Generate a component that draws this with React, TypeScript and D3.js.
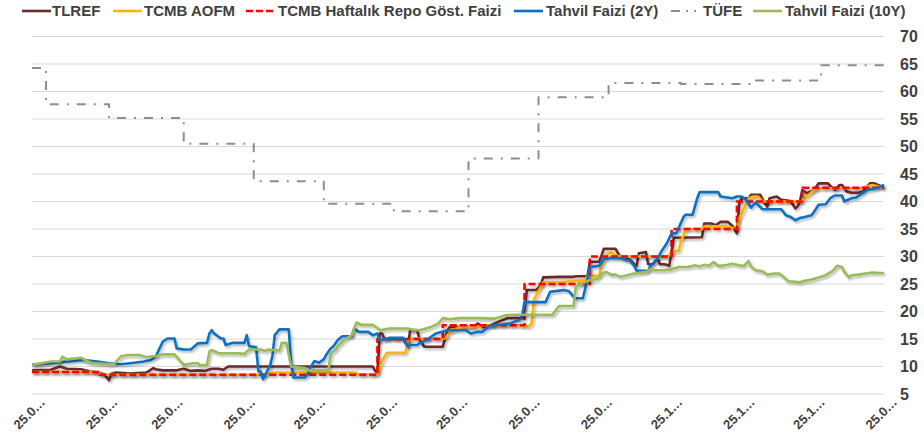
import React from "react";
import * as d3 from "d3";

// x values are days since 25.01.2023 (first date on the axis)
const startDate = "25.01.2023";
const endDate = "25.01.2024";
const xTickLabels = [
  "25.01.2023", "25.02.2023", "25.03.2023", "25.04.2023", "25.05.2023", "25.06.2023",
  "25.07.2023", "25.08.2023", "25.09.2023", "25.10.2023", "25.11.2023", "25.12.2023", "25.01.2024",
];
const yTicks = [5, 10, 15, 20, 25, 30, 35, 40, 45, 50, 55, 60, 65, 70];

const tlref: [number, number][] = [[0,9.3],[8,9.4],[12,10.0],[15,9.6],[21,9.5],[25,9.1],[28,8.9],[31,8.6],[33,7.5],[34,8.7],[36,8.9],[42,8.7],[49,8.9],[52,9.7],[53,9.5],[56,9.3],[62,9.3],[65,9.6],[68,9.2],[71,9.3],[74,9.2],[77,9.6],[80,9.6],[82,9.4],[84,10.0],[146,10.0],[147,9.2],[148,8.8],[149,16.0],[150,16.0],[151,15.0],[159,15.0],[161,13.6],[162,16.6],[165,16.6],[166,15.0],[168,13.6],[176,13.6],[177,15.2],[178,16.6],[179,17.2],[189,17.2],[191,17.8],[193,17.2],[196,17.4],[198,17.8],[202,18.5],[204,18.8],[210,18.8],[211,20.3],[212,23.9],[216,23.9],[218,24.8],[219,26.2],[226,26.3],[232,26.3],[233,26.4],[238,26.4],[239,29.05],[243,29.05],[244,30.2],[245,31.4],[250,31.4],[252,29.9],[254,29.5],[256,29.5],[258,28.6],[259,28.3],[260,30.6],[263,30.8],[264,28.6],[266,28.6],[268,29.6],[269,28.6],[271,28.6],[273,28.3],[275,33.4],[287,33.5],[288,36.0],[291,36.0],[293,35.7],[295,36.3],[298,36.3],[300,35.6],[302,34.2],[303,39.7],[304,40.6],[307,40.6],[308,41.2],[312,41.2],[313,40.3],[315,39.05],[316,40.6],[319,40.9],[321,40.3],[325,40.1],[327,38.75],[328,39.1],[329,40.0],[330,42.1],[332,41.5],[335,42.1],[337,43.3],[341,43.3],[343,42.4],[344,42.1],[346,43.0],[347,43.0],[349,41.8],[351,41.6],[354,41.6],[356,41.8],[357,42.4],[359,43.3],[361,43.3],[364,42.7],[365,42.9]];

const aofm: [number, number][] = [[0,9.0],[28,9.0],[30,8.5],[100,8.5],[101,8.7],[103,8.9],[138,8.9],[140,8.6],[148,8.6],[150,11.0],[152,12.5],[160,12.5],[161,14.6],[163,15.1],[177,15.1],[178,15.8],[180,16.5],[183,17.2],[192,17.2],[193,17.5],[209,17.5],[213,17.3],[214,17.8],[215,22.1],[218,24.5],[219,25.3],[226,25.3],[231,25.5],[237,25.7],[238,26.5],[243,26.5],[244,28.5],[246,30.2],[248,30.8],[250,30.2],[252,30.0],[272,30.0],[275,31.0],[277,31.0],[278,32.8],[279,33.7],[280,35.0],[287,35.0],[288,35.5],[297,35.5],[300,35.2],[302,35.0],[303,36.9],[305,38.75],[307,40.6],[309,40.9],[311,40.9],[313,40.0],[329,40.0],[330,40.1],[332,40.9],[335,42.1],[337,42.4],[355,42.4],[357,42.7],[360,43.0],[363,42.7],[365,42.5]];

const repo: [number, number][] = [[0,9.0],[29,8.5],[148,15.0],[176,17.5],[211,25.0],[239,30.0],[274,35.0],[302,40.0],[330,42.5],[365,42.5]];

const bond2y: [number, number][] = [[0,10.3],[13,10.8],[21,11.2],[28,10.9],[33,10.6],[38,10.4],[42,10.6],[48,10.9],[51,11.2],[53,11.8],[56,14.5],[58,15.1],[61,15.1],[62,13.3],[65,13.1],[68,13.1],[71,14.2],[75,14.3],[76,16.0],[77,16.6],[78,16.0],[81,15.1],[82,15.1],[83,13.9],[86,14.3],[91,14.3],[92,15.7],[93,13.7],[96,13.5],[97,9.1],[98,9.1],[99,7.7],[101,9.4],[102,10.2],[103,11.9],[104,15.7],[106,16.75],[110,16.75],[111,10.6],[112,8.0],[117,8.0],[118,8.5],[119,9.6],[121,11.0],[123,10.7],[125,11.3],[126,12.1],[128,13.3],[129,13.6],[131,14.8],[133,15.5],[137,15.5],[138,16.9],[140,16.3],[144,16.3],[146,15.7],[148,16.0],[149,14.8],[151,14.9],[153,15.2],[159,15.2],[161,13.6],[162,13.9],[165,13.9],[166,14.2],[169,14.8],[173,16.0],[178,16.6],[186,16.6],[188,16.0],[191,16.3],[193,16.3],[196,17.4],[200,17.6],[205,17.85],[209,18.5],[210,19.3],[211,21.8],[213,21.7],[220,21.7],[222,23.6],[226,23.8],[228,23.9],[230,23.7],[232,22.7],[233,22.4],[236,22.4],[238,26.0],[239,28.1],[243,28.3],[244,28.9],[245,29.6],[249,29.7],[253,29.7],[255,29.3],[256,29.3],[258,28.3],[259,27.4],[264,27.4],[265,28.3],[268,29.6],[270,31.2],[272,32.4],[274,34.2],[276,34.2],[279,37.1],[280,37.6],[283,37.6],[285,40.6],[286,41.7],[294,41.7],[295,40.9],[300,40.6],[302,40.9],[304,40.9],[306,40.3],[308,38.9],[310,39.8],[311,39.4],[313,38.6],[321,38.6],[323,37.5],[325,37.2],[327,36.6],[329,37.0],[331,37.2],[334,37.5],[335,38.1],[337,39.4],[340,39.5],[342,40.6],[344,41.1],[347,41.1],[348,40.0],[351,40.6],[353,40.7],[355,41.3],[358,42.1],[361,42.3],[363,42.7],[365,43.0]];

const tufe: [number, number][] = [[0,64.27],[6,57.68],[33,55.18],[65,50.51],[95,43.68],[125,39.59],[155,38.21],[187,47.83],[217,58.94],[247,61.53],[278,61.36],[308,61.98],[338,64.77],[365,64.77]];

const bond10y: [number, number][] = [[0,10.3],[8,10.9],[12,10.9],[13,11.8],[15,11.3],[21,11.6],[23,11.1],[26,10.6],[35,10.4],[38,11.8],[41,12.1],[46,12.1],[49,11.7],[53,11.9],[56,12.2],[61,12.2],[65,10.3],[69,10.6],[71,10.6],[72,10.2],[75,10.3],[76,12.7],[77,13.0],[80,12.4],[88,12.4],[91,12.3],[93,13.1],[98,13.1],[100,12.8],[101,13.1],[106,12.9],[107,14.3],[109,14.3],[111,10.0],[117,9.7],[118,9.3],[127,9.3],[128,12.4],[130,13.0],[131,13.7],[134,14.9],[137,15.7],[139,18.0],[141,17.6],[146,17.6],[148,17.0],[149,16.6],[153,16.9],[161,16.9],[163,16.7],[166,16.6],[171,17.2],[174,17.8],[176,18.8],[179,18.6],[183,18.8],[192,18.8],[198,18.7],[203,19.3],[206,19.4],[223,19.4],[225,20.6],[226,21.0],[232,21.0],[233,24.5],[234,24.7],[237,25.4],[239,25.7],[242,25.9],[244,26.9],[246,27.2],[248,26.7],[250,26.7],[252,26.3],[255,26.6],[258,26.9],[263,27.2],[265,27.7],[267,27.5],[271,27.5],[274,27.7],[277,28.1],[281,28.1],[284,28.4],[286,28.2],[288,28.5],[290,28.3],[292,29.0],[294,28.3],[295,28.3],[298,28.5],[300,28.7],[303,28.4],[305,28.3],[307,29.2],[308,28.2],[310,27.5],[313,27.3],[315,26.7],[318,26.9],[320,26.9],[322,26.3],[324,25.5],[327,25.4],[329,25.3],[331,25.6],[334,25.8],[337,26.2],[340,26.6],[343,27.4],[345,28.3],[347,28.1],[348,27.2],[350,26.2],[351,26.6],[354,26.7],[357,26.9],[360,27.1],[363,27.0],[365,27.0]];

const seriesNames = ["TLREF", "TCMB AOFM", "TCMB Haftalık Repo Göst. Faizi", "Tahvil Faizi (2Y)", "TÜFE", "Tahvil Faizi (10Y)"];

const W = 924, H = 442;
const FONT = "'Liberation Sans', Arial, sans-serif";
const TXT = "#404040";

export default function App() {
  const parse = d3.timeParse("%d.%m.%Y");
  const base = parse(startDate)!;
  const x = d3.scaleTime().domain([base, parse(endDate)!]).range([32, 884]);
  const y = d3.scaleLinear().domain([5, 70]).range([394, 36.5]);
  const toDate = (d: number) => d3.timeDay.offset(base, d);

  const lin = d3.line<[number, number]>().x(p => x(toDate(p[0]))).y(p => y(p[1]));
  const step = d3.line<[number, number]>().x(p => x(toDate(p[0]))).y(p => y(p[1])).curve(d3.curveStepAfter);

  const series = [
    { name: seriesNames[0], data: tlref, color: "#6B2B2A", gen: lin, dash: undefined, w: 2.6, shadow: true },
    { name: seriesNames[1], data: aofm, color: "#FFB400", gen: lin, dash: undefined, w: 2.6, shadow: true },
    { name: seriesNames[2], data: repo, color: "#FF0000", gen: step, dash: "7 3", w: 2.6, shadow: true },
    { name: seriesNames[3], data: bond2y, color: "#0A70C2", gen: lin, dash: undefined, w: 2.6, shadow: true },
    { name: seriesNames[4], data: tufe, color: "#8E8E8E", gen: step, dash: "9 8 2 8", w: 2, shadow: false },
    { name: seriesNames[5], data: bond10y, color: "#9BBB59", gen: lin, dash: undefined, w: 2.6, shadow: true },
  ];

  const legendPos = [
    { lx: 22, tx: 52 },
    { lx: 113, tx: 144 },
    { lx: 246, tx: 278 },
    { lx: 514, tx: 546 },
    { lx: 671, tx: 703 },
    { lx: 753, tx: 785 },
  ];
  const legendDash = [undefined, undefined, "7 3", undefined, "9 6 2 6 2 6", undefined];

  return (
    <svg width={W} height={H} style={{ position: "absolute", left: 0, top: 0, background: "#fff" }} fontFamily={FONT}>
      <defs>
        <filter id="sh" x="-5%" y="-5%" width="110%" height="120%">
          <feDropShadow dx="1.5" dy="2" stdDeviation="1.2" floodColor="#000" floodOpacity="0.28" />
        </filter>
      </defs>
      {yTicks.map(t => (
        <g key={t}>
          <line x1={32} x2={884} y1={y(t)} y2={y(t)} stroke="#D9D9D9" strokeWidth={1} />
          <text x={900} y={y(t)} dy="0.36em" fontSize={16} fontWeight="bold" fill={TXT}>{t}</text>
        </g>
      ))}
      {xTickLabels.map(l => {
        const px = x(parse(l)!) + 14;
        return (
          <text key={l} transform={`translate(${px},403) rotate(-45)`} textAnchor="end" fontSize={13} fontWeight="bold" fill={TXT}>
            {l.slice(0, 4) + "…"}
          </text>
        );
      })}
      {series.map(s => (
        <path key={s.name} d={s.gen(s.data) || ""} fill="none" stroke={s.color} strokeWidth={s.w}
          strokeDasharray={s.dash} strokeLinejoin="round" filter={s.shadow ? "url(#sh)" : undefined} />
      ))}
      {series.map((s, i) => (
        <g key={"lg" + s.name}>
          <line x1={legendPos[i].lx} x2={legendPos[i].lx + 29} y1={11} y2={11} stroke={s.color} strokeWidth={s.w} strokeDasharray={legendDash[i]} />
          <text x={legendPos[i].tx} y={16} fontSize={15} fontWeight="bold" fill={TXT}>{s.name}</text>
        </g>
      ))}
    </svg>
  );
}
